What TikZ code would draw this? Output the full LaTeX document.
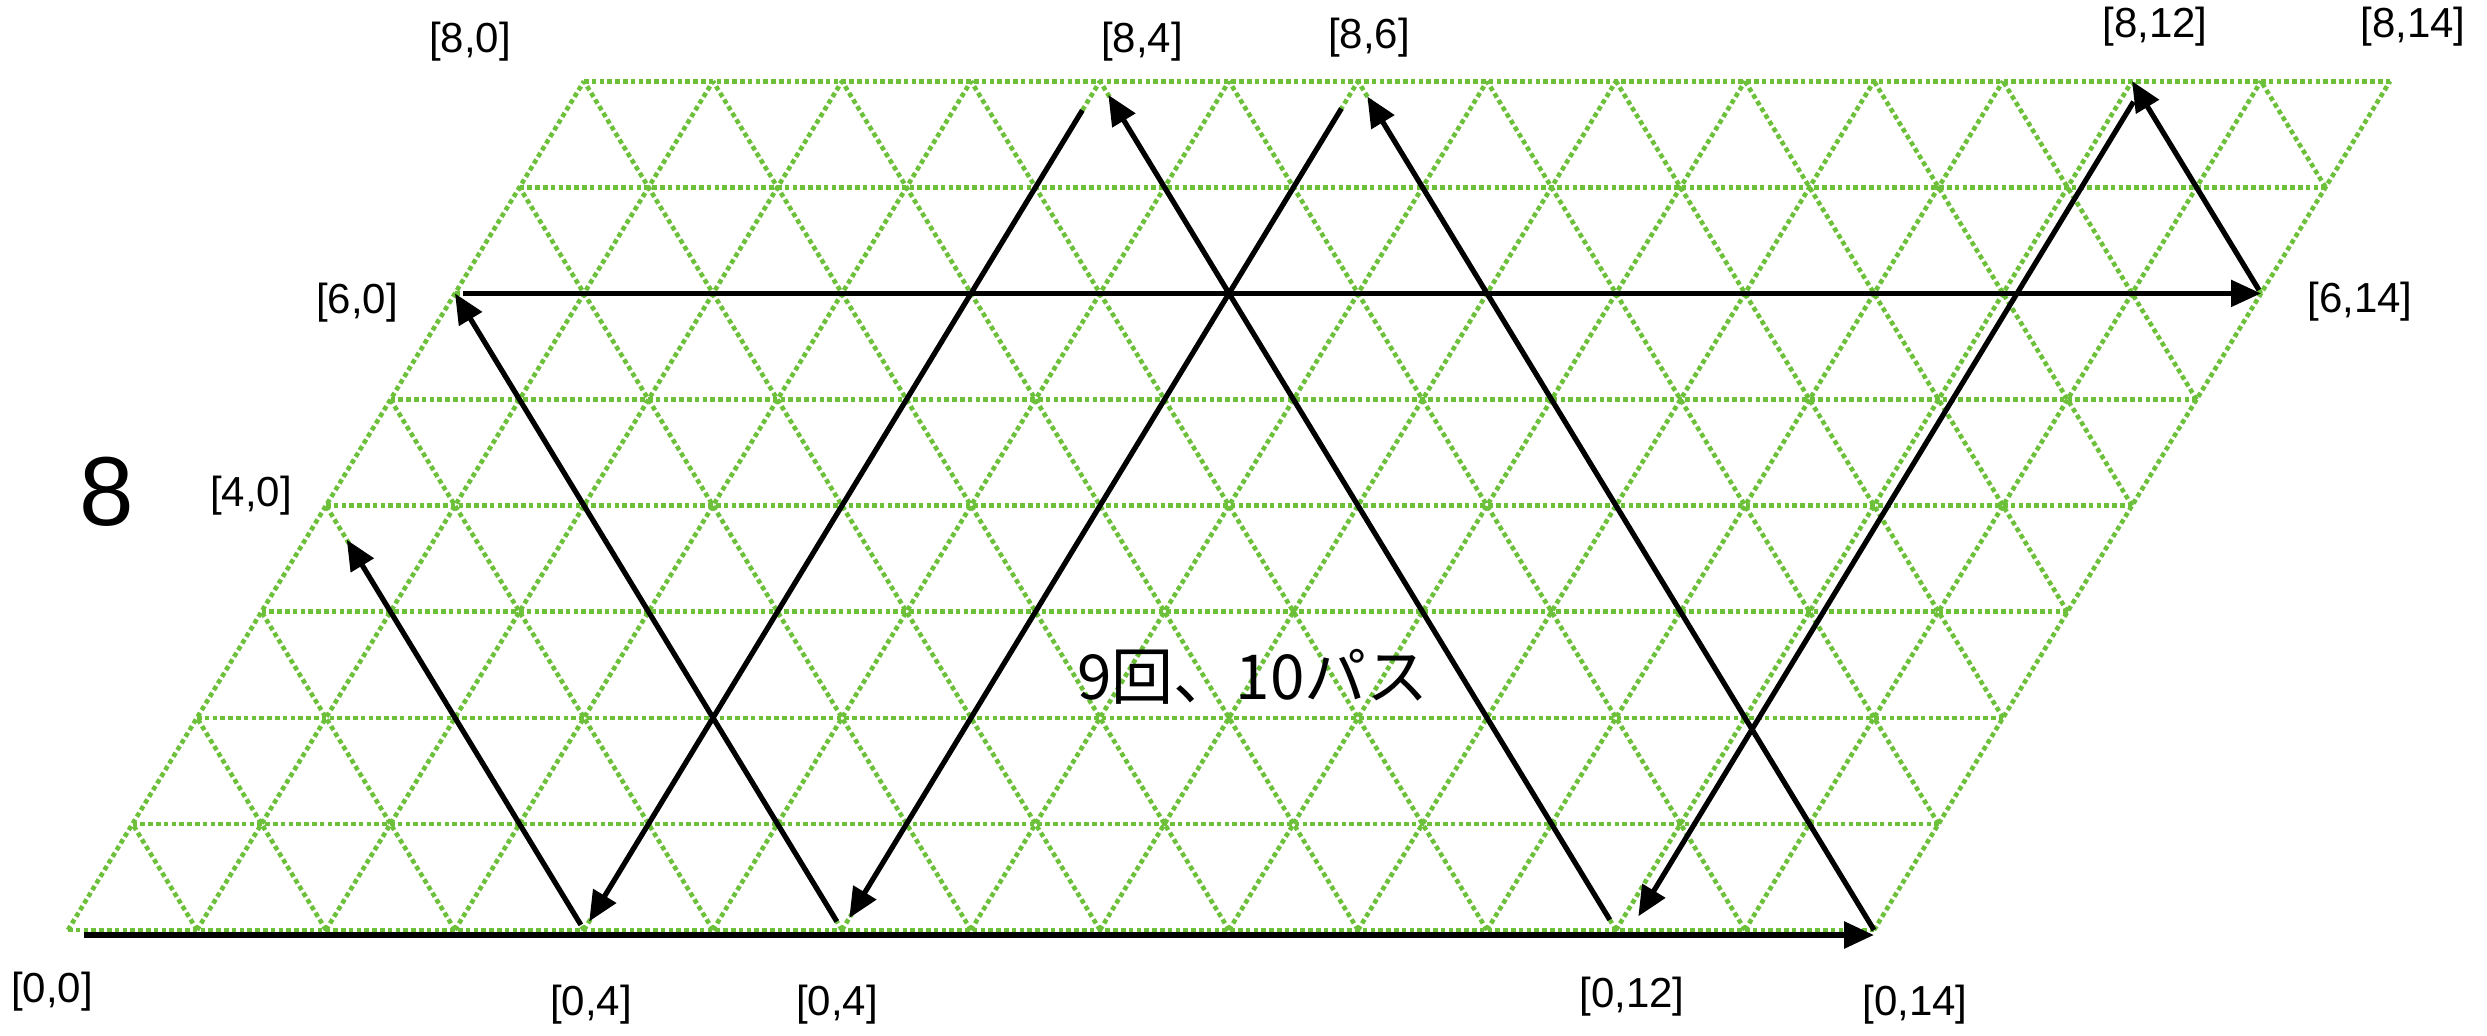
\documentclass[tikz,border=0pt]{standalone}
\usepackage{fontspec}
\setmainfont{Liberation Sans}
\newfontfamily\jpfont{Noto Sans CJK JP}
\usetikzlibrary{arrows.meta}
\definecolor{gridgreen}{RGB}{108,192,58}
\begin{document}
\begin{tikzpicture}[x=0.5pt,y=-0.5pt,
  gridline/.style={gridgreen, line width=2.3pt, dash pattern=on 2.3pt off 1.6pt},
  pathline/.style={black, line width=2.6pt, -{Triangle[length=15pt,width=13pt]}},
  lbl/.style={font=\fontsize{21}{25}\selectfont, inner sep=0pt},
]
\useasboundingbox (0,0) rectangle (2487,1035);
% lattice points
\foreach \r in {0,...,8}{
  \foreach \c in {0,...,14}{
    \coordinate (p\r-\c) at ({68+129*\c+64.5*\r},{930-106.1*\r});
  }
}
% horizontal grid lines
\foreach \r in {0,...,8}{
  \draw[gridline] (p\r-0) -- (p\r-14);
}
% "/" grid lines
\foreach \c in {0,...,14}{
  \draw[gridline] (p0-\c) -- (p8-\c);
}
% "\" grid lines
\foreach \s in {1,...,21}{
  \pgfmathtruncatemacro{\ra}{max(0,\s-14)}
  \pgfmathtruncatemacro{\rb}{min(8,\s)}
  \pgfmathtruncatemacro{\ca}{\s-\ra}
  \pgfmathtruncatemacro{\cb}{\s-\rb}
  \draw[gridline] (p\ra-\ca) -- (p\rb-\cb);
}
% path
\draw[pathline, line width=2.9pt, shorten <=8pt] ([yshift=-2.5pt]p0-0) -- ([yshift=-2.5pt]p0-14);
\draw[pathline, shorten >=9pt] (p0-14) -- (p8-6);
\draw[pathline, shorten <=16pt, shorten >=7pt] (p8-6) -- (p0-6);
\draw[pathline, shorten <=5pt] (p0-6) -- (p6-0);
\draw[pathline, shorten <=4pt] (p6-0) -- (p6-14);
\draw[pathline, shorten <=2pt] (p6-14) -- (p8-12);
\draw[pathline, shorten <=12pt, shorten >=8pt] ([xshift=7pt]p8-12) -- ([xshift=7pt]p0-12);
\draw[pathline, shorten <=6pt, shorten >=8pt] (p0-12) -- (p8-4);
\draw[pathline, shorten <=17pt, shorten >=5pt] (p8-4) -- (p0-4);
\draw[pathline, shorten <=3pt, shorten >=20pt] (p0-4) -- (p4-0);
% labels
\node[lbl] (l80) at (470,42) {[8,0]};
\node[lbl] (l84) at (1142,42) {[8,4]};
\node[lbl] (l86) at (1369,38) {[8,6]};
\node[lbl] (l812) at (2155,27) {[8,12]};
\node[lbl] (l814) at (2413,27) {[8,14]};
\node[lbl] (l60) at (357,303) {[6,0]};
\node[lbl] (l614) at (2360,302) {[6,14]};
\node[lbl] (l40) at (251,496) {[4,0]};
\node[lbl] (l00) at (52,992) {[0,0]};
\node[lbl] (l04a) at (591,1005) {[0,4]};
\node[lbl] (l04b) at (837,1005) {[0,4]};
\node[lbl] (l012) at (1632,997) {[0,12]};
\node[lbl] (l014) at (1915,1005) {[0,14]};
\node[font=\fontsize{49}{56}\selectfont, inner sep=0pt] (eight) at (107,492) {8};
\node[font=\jpfont\fontsize{31}{36}\selectfont, inner sep=0pt] (caption) at (1253,677) {9回、10パス};
\end{tikzpicture}
\end{document}
